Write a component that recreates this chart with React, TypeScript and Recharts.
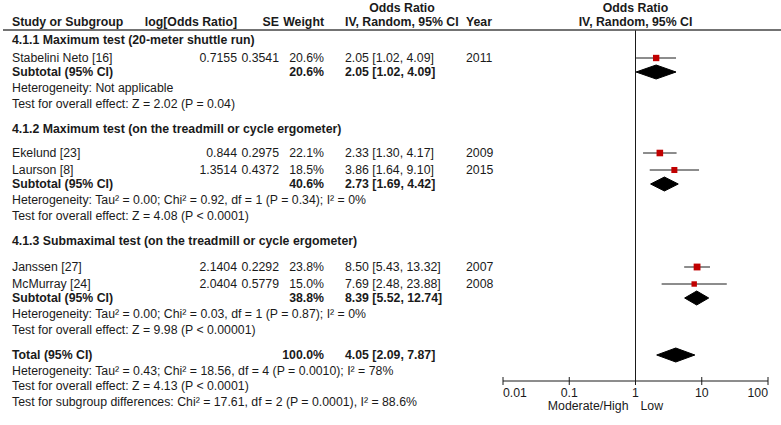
import React from 'react';
import { ComposedChart, XAxis, YAxis, Scatter, Area, ReferenceLine } from 'recharts';

// Forest plot: odds ratios by subgroup (IV, random effects)

const W = 781;
const H = 425;
const PLOT_LEFT = 503;
const PLOT_RIGHT = 768;
const AXIS_Y = 381;
const HEADER_LINE_Y = 30;
const FONT = '"Liberation Sans", Arial, sans-serif';
const FONT_SIZE = 12.3;
const INK = '#1a1a1a';
const SQUARE_RED = '#c00000';

// ---- data ----
const groupTitles = [
  '4.1.1 Maximum test (20-meter shuttle run)',
  '4.1.2 Maximum test (on the treadmill or cycle ergometer)',
  '4.1.3 Submaximal test (on the treadmill or cycle ergometer)',
];
const groupHeterogeneity = [
  'Heterogeneity: Not applicable',
  'Heterogeneity: Tau² = 0.00; Chi² = 0.92, df = 1 (P = 0.34); I² = 0%',
  'Heterogeneity: Tau² = 0.00; Chi² = 0.03, df = 1 (P = 0.87); I² = 0%',
];
const groupEffect = [
  'Test for overall effect: Z = 2.02 (P = 0.04)',
  'Test for overall effect: Z = 4.08 (P < 0.0001)',
  'Test for overall effect: Z = 9.98 (P < 0.00001)',
];
const groupWeight = [20.6, 40.6, 38.8];
const groupOr = [2.05, 2.73, 8.39];
const groupLow = [1.02, 1.69, 5.52];
const groupHigh = [4.09, 4.42, 12.74];

const studyNames = ['Stabelini Neto [16]', 'Ekelund [23]', 'Laurson [8]', 'Janssen [27]', 'McMurray [24]'];
const studyGroup = [0, 1, 1, 2, 2];
const studyLogOr = ['0.7155', '0.844', '1.3514', '2.1404', '2.0404'];
const studySe = ['0.3541', '0.2975', '0.4372', '0.2292', '0.5779'];
const studyWeight = [20.6, 22.1, 18.5, 23.8, 15.0];
const studyOr = [2.05, 2.33, 3.86, 8.5, 7.69];
const studyLow = [1.02, 1.3, 1.64, 5.43, 2.48];
const studyHigh = [4.09, 4.17, 9.1, 13.32, 23.88];
const studyYear = [2011, 2009, 2015, 2007, 2008];

const totalWeight = 100.0;
const totalOr = 4.05;
const totalLow = 2.09;
const totalHigh = 7.87;
const totalNotes = [
  'Heterogeneity: Tau² = 0.43; Chi² = 18.56, df = 4 (P = 0.0010); I² = 78%',
  'Test for overall effect: Z = 4.13 (P < 0.0001)',
  'Test for subgroup differences: Chi² = 17.61, df = 2 (P = 0.0001), I² = 88.6%',
];

const axisTicks = [0.01, 0.1, 1, 10, 100];
const axisTickLabels = ['0.01', '0.1', '1', '10', '100'];
const favourLabels = ['Moderate/High', 'Low'];

// ---- layout (row spacing, px) ----
const FIRST_Y = 40;
const TITLE_GAP = [18, 24, 26];
const STUDY_GAP = 17;
const SUBTOTAL_GAP = 14;
const HET_GAP = 16;
const NOTE_GAP = 15.5;
const SECTION_GAP = 25.5;
const DIAMOND_HALF = 7;

const COL_STUDY = 12;
const COL_LOGOR = 237;
const COL_SE = 279;
const COL_WEIGHT = 324;
const COL_OR = 345;
const COL_YEAR = 466;

type Row = {
  kind: 'title' | 'study' | 'pooled' | 'note';
  y: number;
  label: string;
  logOr?: string;
  se?: string;
  weight?: number;
  or?: number;
  low?: number;
  high?: number;
  year?: number;
};

function buildRows(): Row[] {
  const rows: Row[] = [];
  let y = FIRST_Y;
  groupTitles.forEach((title, g) => {
    if (g > 0) y += SECTION_GAP;
    rows.push({ kind: 'title', y, label: title });
    let first = true;
    studyNames.forEach((name, i) => {
      if (studyGroup[i] !== g) return;
      y += first ? TITLE_GAP[g] : STUDY_GAP;
      first = false;
      rows.push({
        kind: 'study',
        y,
        label: name,
        logOr: studyLogOr[i],
        se: studySe[i],
        weight: studyWeight[i],
        or: studyOr[i],
        low: studyLow[i],
        high: studyHigh[i],
        year: studyYear[i],
      });
    });
    y += SUBTOTAL_GAP;
    rows.push({
      kind: 'pooled',
      y,
      label: 'Subtotal (95% CI)',
      weight: groupWeight[g],
      or: groupOr[g],
      low: groupLow[g],
      high: groupHigh[g],
    });
    y += HET_GAP;
    rows.push({ kind: 'note', y, label: groupHeterogeneity[g] });
    y += NOTE_GAP;
    rows.push({ kind: 'note', y, label: groupEffect[g] });
  });
  y += SECTION_GAP;
  rows.push({ kind: 'pooled', y, label: 'Total (95% CI)', weight: totalWeight, or: totalOr, low: totalLow, high: totalHigh });
  totalNotes.forEach((t) => {
    y += NOTE_GAP;
    rows.push({ kind: 'note', y, label: t });
  });
  return rows;
}

const fmtCi = (or: number, lo: number, hi: number) => `${or.toFixed(2)} [${lo.toFixed(2)}, ${hi.toFixed(2)}]`;

// only used to place text labels next to the plot
const xText = (v: number) => PLOT_LEFT + ((Math.log10(v) + 2) / 4) * (PLOT_RIGHT - PLOT_LEFT);

function AxisTick(props: any) {
  const { x, y, payload, index } = props;
  const i = axisTicks.indexOf(payload.value);
  const anchor = index === 0 ? 'start' : index === axisTicks.length - 1 ? 'end' : 'middle';
  return (
    <g>
      <line x1={x} x2={x} y1={y - 4} y2={y + 4} stroke={INK} />
      <text x={x} y={y + 12} textAnchor={anchor} dominantBaseline="central" fontFamily={FONT} fontSize={FONT_SIZE} fill={INK}>
        {axisTickLabels[i]}
      </text>
    </g>
  );
}

function Square(props: any) {
  const { cx, cy, payload } = props;
  const s = 1.4 * Math.sqrt(payload.w);
  return <rect x={cx - s / 2} y={cy - s / 2} width={s} height={s} fill={SQUARE_RED} />;
}

function T({ x, y, children, bold, anchor = 'start' }: any) {
  return (
    <text
      x={x}
      y={y}
      textAnchor={anchor}
      dominantBaseline="central"
      fontFamily={FONT}
      fontSize={FONT_SIZE}
      fontWeight={bold ? 'bold' : 'normal'}
      fill={INK}
    >
      {children}
    </text>
  );
}

function TableText({ rows }: { rows: Row[] }) {
  const h1 = 8;
  const h2 = 22;
  return (
    <svg width={W} height={H} style={{ position: 'absolute', left: 0, top: 0, pointerEvents: 'none' }}>
      <T x={402} y={h1} bold anchor="middle">Odds Ratio</T>
      <T x={xText(1)} y={h1} bold anchor="middle">Odds Ratio</T>
      <T x={COL_STUDY} y={h2} bold>Study or Subgroup</T>
      <T x={COL_LOGOR} y={h2} bold anchor="end">log[Odds Ratio]</T>
      <T x={COL_SE} y={h2} bold anchor="end">SE</T>
      <T x={COL_WEIGHT} y={h2} bold anchor="end">Weight</T>
      <T x={COL_OR} y={h2} bold>IV, Random, 95% CI</T>
      <T x={COL_YEAR} y={h2} bold>Year</T>
      <T x={xText(1)} y={h2} bold anchor="middle">IV, Random, 95% CI</T>
      <line x1={3} x2={W} y1={HEADER_LINE_Y} y2={HEADER_LINE_Y} stroke="#444" strokeWidth={1.5} />

      {rows.map((r, k) => {
        if (r.kind === 'title') return <T key={k} x={COL_STUDY} y={r.y} bold>{r.label}</T>;
        if (r.kind === 'note') return <T key={k} x={COL_STUDY} y={r.y}>{r.label}</T>;
        const bold = r.kind === 'pooled';
        return (
          <g key={k}>
            <T x={COL_STUDY} y={r.y} bold={bold}>{r.label}</T>
            {r.logOr && <T x={COL_LOGOR} y={r.y} anchor="end">{r.logOr}</T>}
            {r.se && <T x={COL_SE} y={r.y} anchor="end">{r.se}</T>}
            <T x={COL_WEIGHT} y={r.y} bold={bold} anchor="end">{`${r.weight!.toFixed(1)}%`}</T>
            <T x={COL_OR} y={r.y} bold={bold}>{fmtCi(r.or!, r.low!, r.high!)}</T>
            {r.year && <T x={COL_YEAR} y={r.y}>{r.year}</T>}
          </g>
        );
      })}

      <T x={xText(1) - 7} y={406} anchor="end">{favourLabels[0]}</T>
      <T x={xText(1) + 5} y={406}>{favourLabels[1]}</T>
    </svg>
  );
}

export default function App() {
  const rows = buildRows();
  const studyRows = rows.filter((r) => r.kind === 'study');
  const pooledRows = rows.filter((r) => r.kind === 'pooled');
  const studyPoints = studyRows.map((r) => ({ x: r.or, y: r.y, w: r.weight }));

  return (
    <div style={{ position: 'absolute', left: 0, top: 0, width: W, height: H, background: '#fff' }}>
      <ComposedChart
        width={W}
        height={H}
        margin={{ top: 0, right: W - PLOT_RIGHT, bottom: 0, left: PLOT_LEFT }}
      >
        <XAxis
          dataKey="x"
          type="number"
          scale="log"
          domain={[0.01, 100]}
          ticks={axisTicks}
          interval={0}
          allowDataOverflow
          height={H - AXIS_Y}
          axisLine={{ stroke: INK }}
          tickLine={false}
          tickSize={0}
          tickMargin={0}
          tick={<AxisTick />}
        />
        <YAxis dataKey="y" type="number" domain={[0, AXIS_Y]} reversed hide allowDataOverflow />
        <ReferenceLine
          segment={[
            { x: 1, y: HEADER_LINE_Y },
            { x: 1, y: AXIS_Y },
          ]}
          stroke={INK}
        />
        {studyRows.map((r, k) => (
          <ReferenceLine
            key={`ci-${k}`}
            segment={[
              { x: r.low, y: r.y },
              { x: r.high, y: r.y },
            ]}
            stroke={INK}
          />
        ))}
        {pooledRows.map((r, k) => (
          <Area
            key={`dia-${k}`}
            data={[
              { x: r.low, band: [r.y, r.y] },
              { x: r.or, band: [r.y - DIAMOND_HALF, r.y + DIAMOND_HALF] },
              { x: r.high, band: [r.y, r.y] },
            ]}
            dataKey="band"
            type="linear"
            fill="#000"
            fillOpacity={1}
            stroke="#000"
            dot={false}
            activeDot={false}
            isAnimationActive={false}
          />
        ))}
        <Scatter data={studyPoints} shape={<Square />} isAnimationActive={false} />
      </ComposedChart>
      <TableText rows={rows} />
    </div>
  );
}
